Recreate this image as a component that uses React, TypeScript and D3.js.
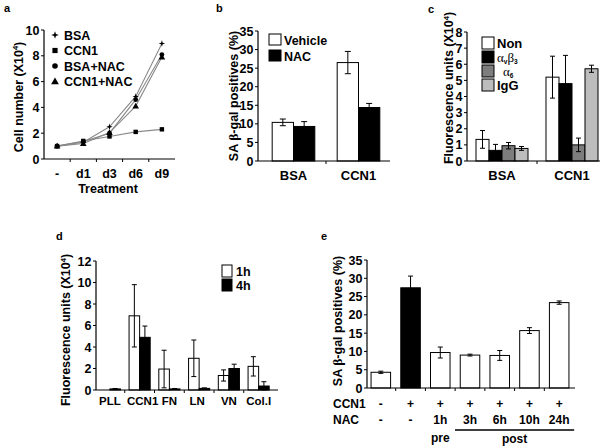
import React from "react";
import * as d3 from "d3";

const FONT = "'Liberation Sans', Arial, Helvetica, sans-serif";
const SERIF = "'Liberation Serif', 'Times New Roman', serif";

// ---------- Panel a ----------
const aDays = ["-", "d1", "d3", "d6", "d9"];
const aSeriesNames = ["BSA", "CCN1", "BSA+NAC", "CCN1+NAC"];
const aBSA = [1.0, 1.3, 2.5, 4.85, 8.95];
const aCCN1 = [1.0, 1.4, 1.75, 2.1, 2.3];
const aBSANAC = [1.0, 1.35, 2.0, 4.6, 8.1];
const aCCN1NAC = [1.0, 1.2, 2.05, 4.1, 7.9];
const aYTicks = [0, 2, 4, 6, 8, 10];

// ---------- Panel b ----------
const bGroups = ["BSA", "CCN1"];
const bSeries = ["Vehicle", "NAC"];
const bVehicle = [10.4, 26.5];
const bVehicleErr = [0.9, 3.0];
const bNAC = [9.3, 14.4];
const bNACErr = [1.3, 1.1];
const bYTicks = [0, 5, 10, 15, 20, 25, 30, 35];

// ---------- Panel c ----------
const cGroups = ["BSA", "CCN1"];
const cSeries = ["Non", "avb3", "a6", "IgG"];
const cNon = [1.34, 5.2];
const cNonErr = [0.55, 1.3];
const cAvb3 = [0.66, 4.8];
const cAvb3Err = [0.37, 1.75];
const cA6 = [0.95, 1.0];
const cA6Err = [0.2, 0.42];
const cIgG = [0.78, 5.72];
const cIgGErr = [0.12, 0.22];
const cYTicks = [0, 1, 2, 3, 4, 5, 6, 7, 8];

// ---------- Panel d ----------
const dGroups = ["PLL", "CCN1", "FN", "LN", "VN", "Col.I"];
const dSeries = ["1h", "4h"];
const d1h = [0, 6.9, 1.95, 2.95, 1.35, 2.2];
const d1hErr = [0, 2.9, 1.75, 1.7, 0.52, 0.9];
const d4h = [0.1, 4.9, 0.1, 0.15, 2.0, 0.37];
const d4hErr = [0.04, 1.05, 0.04, 0.05, 0.4, 0.4];
const dYTicks = [0, 2, 4, 6, 8, 10, 12];

// ---------- Panel e ----------
const eCCN1 = ["-", "+", "+", "+", "+", "+", "+"];
const eNAC = ["-", "-", "1h", "3h", "6h", "10h", "24h"];
const eValues = [4.3, 27.4, 9.7, 9.0, 8.9, 15.7, 23.35];
const eErr = [0.3, 3.2, 1.5, 0.25, 1.35, 0.8, 0.45];
const eYTicks = [0, 5, 10, 15, 20, 25, 30, 35];

const TICK_FS = 12.5;
const CAT_FS = 12.5;
const LAB_FS = 12.5;
const LEG_FS = 12.5;
const LET_FS = 11;

function YAxis({ y, ticks, x }: { y: any; ticks: number[]; x: number }) {
  const [r0, r1] = y.range();
  return (
    <g>
      <line x1={x} x2={x} y1={r0} y2={r1} stroke="#000" strokeWidth={1.2} />
      {ticks.map((t) => (
        <g key={t}>
          <line x1={x - 3} x2={x} y1={y(t)} y2={y(t)} stroke="#000" strokeWidth={1} />
          <text x={x - 4.5} y={y(t)} dy="0.36em" textAnchor="end" fontSize={TICK_FS} fontWeight="bold" fontFamily={FONT}>
            {t}
          </text>
        </g>
      ))}
    </g>
  );
}

function XAxisLine({ xb, y, x0, x1 }: { xb: any; y: number; x0: number; x1: number }) {
  const dom = xb.domain();
  const step = xb.step();
  const start = xb(dom[0]) - (step - xb.bandwidth()) / 2;
  const bounds = dom.slice(1).map((_: any, i: number) => start + step * (i + 1));
  return (
    <g>
      <line x1={x0} x2={x1} y1={y} y2={y} stroke="#000" strokeWidth={1.2} />
      {bounds.map((b: number, i: number) => (
        <line key={i} x1={b} x2={b} y1={y} y2={y + 3} stroke="#000" strokeWidth={1} />
      ))}
    </g>
  );
}

function ErrorBar({ x, y, v, e, w = 6 }: { x: number; y: any; v: number; e: number; w?: number }) {
  if (!e) return null;
  const top = y(v + e);
  const bot = y(Math.max(0, v - e));
  return (
    <g stroke="#000" strokeWidth={1}>
      <line x1={x} x2={x} y1={top} y2={bot} />
      <line x1={x - w / 2} x2={x + w / 2} y1={top} y2={top} />
      <line x1={x - w / 2} x2={x + w / 2} y1={bot} y2={bot} />
    </g>
  );
}

function YLabel({ x, y, children }: { x: number; y: number; children: any }) {
  return (
    <text transform={`translate(${x},${y}) rotate(-90)`} textAnchor="middle" fontSize={LAB_FS} fontWeight="bold" fontFamily={FONT}>
      {children}
    </text>
  );
}

function FluoLabel() {
  return (
    <>
      Fluorescence units (X10
      <tspan fontSize={7.5} dy={-4.5}>4</tspan>
      <tspan dy={4.5}>)</tspan>
    </>
  );
}

function SALabel() {
  return (
    <>
      SA <tspan fontFamily={SERIF} fontSize={13.5}>β</tspan>-gal positives (%)
    </>
  );
}

function star4(cx: number, cy: number, r: number) {
  const pts: string[] = [];
  for (let i = 0; i < 8; i++) {
    const ang = (i * Math.PI) / 4 - Math.PI / 2;
    const rr = i % 2 === 0 ? r : r * 0.35;
    pts.push(`${cx + rr * Math.cos(ang)},${cy + rr * Math.sin(ang)}`);
  }
  return "M" + pts.join("L") + "Z";
}

function Marker({ kind, x, y, s = 1 }: { kind: number; x: number; y: number; s?: number }) {
  if (kind === 0) return <path d={star4(x, y, 3.8 * s)} fill="#000" />;
  if (kind === 1) return <rect x={x - 2.6 * s} y={y - 2.6 * s} width={5.2 * s} height={5.2 * s} fill="#000" />;
  if (kind === 2) return <circle cx={x} cy={y} r={2.8 * s} fill="#000" />;
  const p = d3.symbol().type(d3.symbolTriangle).size(26 * s * s)();
  return <path d={p || ""} transform={`translate(${x},${y + 0.5})`} fill="#000" />;
}

function PanelA() {
  const x = d3.scaleBand<string>().domain(aDays).range([44, 175]);
  const y = d3.scaleLinear().domain([0, 10]).range([159, 30]);
  const series = [aBSA, aCCN1, aBSANAC, aCCN1NAC];
  const line = d3
    .line<number>()
    .x((_, i) => (x(aDays[i]) as number) + x.bandwidth() / 2)
    .y((d) => y(d));
  const legendY = [35, 50.5, 66, 81.5];
  return (
    <g>
      <text x={4} y={12} fontSize={LET_FS} fontWeight="bold" fontFamily={FONT}>a</text>
      <YLabel x={22.5} y={97}>
        Cell number (X10<tspan fontSize={7.5} dy={-4.5}>4</tspan>
        <tspan dy={4.5}>)</tspan>
      </YLabel>
      {series.map((s, k) => (
        <path key={k} d={line(s) || ""} fill="none" stroke="#8a8a8a" strokeWidth={1.1} />
      ))}
      <YAxis y={y} ticks={aYTicks} x={44} />
      <XAxisLine xb={x} y={159} x0={44} x1={175} />
      {aDays.map((d) => (
        <text key={d} x={(x(d) as number) + x.bandwidth() / 2} y={178} textAnchor="middle" fontSize={CAT_FS} fontWeight="bold" fontFamily={FONT}>
          {d}
        </text>
      ))}
      <text x={108} y={193} textAnchor="middle" fontSize={12.5} fontWeight="bold" fontFamily={FONT}>Treatment</text>
      {series.map((s, k) =>
        s.map((v, i) => (
          <Marker key={`${k}-${i}`} kind={k} x={(x(aDays[i]) as number) + x.bandwidth() / 2} y={y(v)} s={0.85} />
        ))
      )}
      {aSeriesNames.map((n, k) => (
        <g key={n}>
          <Marker kind={k} x={55} y={legendY[k]} s={1} />
          <text x={64} y={legendY[k]} dy="0.36em" fontSize={LEG_FS} fontWeight="bold" fontFamily={FONT}>{n}</text>
        </g>
      ))}
    </g>
  );
}

function PanelB() {
  const x = d3.scaleBand<string>().domain(bGroups).range([261, 391]).paddingInner(0.344).paddingOuter(0.172);
  const xs = d3.scaleBand<string>().domain(bSeries).range([0, x.bandwidth()]);
  const y = d3.scaleLinear().domain([0, 35]).range([161, 31]);
  const vals = [bVehicle, bNAC];
  const errs = [bVehicleErr, bNACErr];
  const fills = ["#fff", "#000"];
  return (
    <g>
      <text x={216} y={12} fontSize={LET_FS} fontWeight="bold" fontFamily={FONT}>b</text>
      <YLabel x={238} y={96}><SALabel /></YLabel>
      {bGroups.map((g, gi) =>
        bSeries.map((s, si) => {
          const bx = (x(g) as number) + (xs(s) as number);
          const v = vals[si][gi];
          return (
            <g key={g + s}>
              <rect x={bx} y={y(v)} width={xs.bandwidth()} height={y(0) - y(v)} fill={fills[si]} stroke="#000" strokeWidth={1} />
              <ErrorBar x={bx + xs.bandwidth() / 2} y={y} v={v} e={errs[si][gi]} />
            </g>
          );
        })
      )}
      <YAxis y={y} ticks={bYTicks} x={258} />
      <XAxisLine xb={x} y={161} x0={258} x1={390} />
      {bGroups.map((g) => (
        <text key={g} x={(x(g) as number) + x.bandwidth() / 2} y={180} textAnchor="middle" fontSize={13} fontWeight="bold" fontFamily={FONT}>
          {g}
        </text>
      ))}
      {bSeries.map((s, si) => (
        <g key={s}>
          <rect x={269} y={34 + si * 16} width={12} height={11} fill={fills[si]} stroke="#000" strokeWidth={1} />
          <text x={284} y={44.5 + si * 16} fontSize={LEG_FS} fontWeight="bold" fontFamily={FONT}>{s}</text>
        </g>
      ))}
    </g>
  );
}

function PanelC() {
  const x = d3.scaleBand<string>().domain(cGroups).range([467, 607]).paddingInner(0.257).paddingOuter(0.1286);
  const xs = d3.scaleBand<string>().domain(cSeries).range([0, x.bandwidth()]);
  const y = d3.scaleLinear().domain([0, 8]).range([161, 32]);
  const vals = [cNon, cAvb3, cA6, cIgG];
  const errs = [cNonErr, cAvb3Err, cA6Err, cIgGErr];
  const fills = ["#fff", "#000", "#7d7d7d", "#bdbdbd"];
  const legendLabels = [
    <tspan key="n">Non</tspan>,
    <>
      <tspan fontFamily={SERIF} fontWeight="normal" fontSize={13}>α</tspan>
      <tspan fontSize={6.5} dy={2.5}>v</tspan>
      <tspan fontFamily={SERIF} fontWeight="normal" fontSize={13} dy={-2.5}>β</tspan>
      <tspan fontSize={6.5} dy={2.5}>3</tspan>
    </>,
    <>
      <tspan fontFamily={SERIF} fontWeight="normal" fontSize={13} dx={6}>α</tspan>
      <tspan fontSize={6.5} dy={2.5}>6</tspan>
    </>,
    <tspan key="i">IgG</tspan>,
  ];
  return (
    <g>
      <text x={428} y={13} fontSize={LET_FS} fontWeight="bold" fontFamily={FONT}>c</text>
      <YLabel x={453} y={88}><FluoLabel /></YLabel>
      {cGroups.map((g, gi) =>
        cSeries.map((s, si) => {
          const bx = (x(g) as number) + (xs(s) as number);
          const v = vals[si][gi];
          return (
            <g key={g + s}>
              <rect x={bx} y={y(v)} width={xs.bandwidth()} height={y(0) - y(v)} fill={fills[si]} stroke="#000" strokeWidth={1} />
              <ErrorBar x={bx + xs.bandwidth() / 2} y={y} v={v} e={errs[si][gi]} w={5} />
            </g>
          );
        })
      )}
      <YAxis y={y} ticks={cYTicks} x={467} />
      <XAxisLine xb={x} y={161} x0={467} x1={600} />
      {cGroups.map((g) => (
        <text key={g} x={(x(g) as number) + x.bandwidth() / 2} y={180} textAnchor="middle" fontSize={13} fontWeight="bold" fontFamily={FONT}>
          {g}
        </text>
      ))}
      {cSeries.map((s, si) => (
        <g key={s}>
          <rect x={482} y={37 + si * 14} width={12} height={12} fill={fills[si]} stroke="#000" strokeWidth={1} />
          <text x={497} y={47.5 + si * 14} fontSize={13} fontWeight="bold" fontFamily={FONT}>{legendLabels[si]}</text>
        </g>
      ))}
    </g>
  );
}

function PanelD() {
  const x = d3.scaleBand<string>().domain(dGroups).range([95, 273.5]).paddingInner(0.29).paddingOuter(0.145);
  const xs = d3.scaleBand<string>().domain(dSeries).range([0, x.bandwidth()]);
  const y = d3.scaleLinear().domain([0, 12]).range([390, 261]);
  const vals = [d1h, d4h];
  const errs = [d1hErr, d4hErr];
  const fills = ["#fff", "#000"];
  return (
    <g>
      <text x={56} y={240} fontSize={LET_FS} fontWeight="bold" fontFamily={FONT}>d</text>
      <YLabel x={70} y={330}><FluoLabel /></YLabel>
      {dGroups.map((g, gi) =>
        dSeries.map((s, si) => {
          const bx = (x(g) as number) + (xs(s) as number);
          const v = vals[si][gi];
          return (
            <g key={g + s}>
              {v > 0 && (
                <rect x={bx} y={y(v)} width={xs.bandwidth()} height={y(0) - y(v)} fill={fills[si]} stroke="#000" strokeWidth={1} />
              )}
              <ErrorBar x={bx + xs.bandwidth() / 2} y={y} v={v} e={errs[si][gi]} w={5} />
            </g>
          );
        })
      )}
      <YAxis y={y} ticks={dYTicks} x={96} />
      <XAxisLine xb={x} y={390} x0={96} x1={278} />
      {dGroups.map((g) => (
        <text key={g} x={(x(g) as number) + x.bandwidth() / 2 + (g === "CCN1" ? 3 : g === "LN" ? -2 : 0)} y={405} textAnchor="middle" fontSize={11.5} fontWeight="bold" fontFamily={FONT}>
          {g}
        </text>
      ))}
      {dSeries.map((s, si) => (
        <g key={s}>
          <rect x={222} y={265 + si * 14} width={10} height={12} fill={fills[si]} stroke="#000" strokeWidth={1} />
          <text x={236} y={276 + si * 14} fontSize={LEG_FS} fontWeight="bold" fontFamily={FONT}>{s}</text>
        </g>
      ))}
    </g>
  );
}

function PanelE() {
  const idx = eValues.map((_, i) => String(i));
  const x = d3.scaleBand<string>().domain(idx).range([366, 574]).paddingInner(0.343).paddingOuter(0.17);
  const y = d3.scaleLinear().domain([0, 35]).range([388, 260]);
  const cx = (i: number) => (x(String(i)) as number) + x.bandwidth() / 2;
  const FS = 12;
  return (
    <g>
      <text x={321} y={240} fontSize={LET_FS} fontWeight="bold" fontFamily={FONT}>e</text>
      <YLabel x={342} y={321}><SALabel /></YLabel>
      {eValues.map((v, i) => (
        <g key={i}>
          <rect x={x(String(i)) as number} y={y(v)} width={x.bandwidth()} height={y(0) - y(v)} fill={i === 1 ? "#000" : "#fff"} stroke="#000" strokeWidth={1} />
          <ErrorBar x={cx(i)} y={y} v={v} e={eErr[i]} w={5} />
        </g>
      ))}
      <YAxis y={y} ticks={eYTicks} x={367} />
      <XAxisLine xb={x} y={388} x0={367} x1={575} />
      <text x={333} y={407.5} fontSize={FS} fontWeight="bold" fontFamily={FONT}>CCN1</text>
      <text x={333} y={424} fontSize={FS} fontWeight="bold" fontFamily={FONT}>NAC</text>
      {eCCN1.map((s, i) => (
        <text key={"c" + i} x={cx(i)} y={407.5} textAnchor="middle" fontSize={FS} fontWeight="bold" fontFamily={FONT}>{s}</text>
      ))}
      {eNAC.map((s, i) => (
        <text key={"n" + i} x={cx(i)} y={424} textAnchor="middle" fontSize={FS} fontWeight="bold" fontFamily={FONT}>{s}</text>
      ))}
      <text x={cx(2)} y={442} textAnchor="middle" fontSize={FS} fontWeight="bold" fontFamily={FONT}>pre</text>
      <line x1={cx(3) - 15} x2={cx(6) + 15} y1={430} y2={430} stroke="#000" strokeWidth={1.6} />
      <text x={(cx(3) + cx(6)) / 2} y={443} textAnchor="middle" fontSize={FS} fontWeight="bold" fontFamily={FONT}>post</text>
    </g>
  );
}

export default function App() {
  return (
    <div style={{ position: "absolute", left: 0, top: 0, width: 600, height: 447, background: "#fff" }}>
      <svg width={600} height={447} viewBox="0 0 600 447" style={{ display: "block" }}>
        <rect x={0} y={0} width={600} height={447} fill="#fff" />
        <PanelA />
        <PanelB />
        <PanelC />
        <PanelD />
        <PanelE />
      </svg>
    </div>
  );
}
